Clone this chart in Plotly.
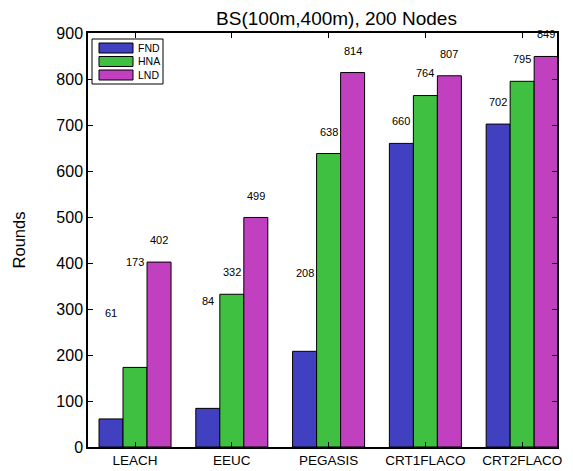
import plotly.graph_objects as go

categories = ["LEACH", "EEUC", "PEGASIS", "CRT1FLACO", "CRT2FLACO"]
series_names = ["FND", "HNA", "LND"]
fnd = [61, 84, 208, 660, 702]
hna = [173, 332, 638, 764, 795]
lnd = [402, 499, 814, 807, 849]
y_ticks = [0, 100, 200, 300, 400, 500, 600, 700, 800, 900]

# label heights above bar tops (rounds units), as placed in the reference
fnd_label_off = [230, 233, 170, 49, 48]
hna_label_off = [229, 48, 47, 49, 48]
lnd_label_off = [48, 47, 47, 47, 49]

colors = ["#4040C0", "#40C040", "#C040C0"]
values = [fnd, hna, lnd]
offsets = [fnd_label_off, hna_label_off, lnd_label_off]
xpos = list(range(1, len(categories) + 1))
bar_w = 0.248

FONT = "Liberation Sans, Arial"

fig = go.Figure()
for name, vals, col in zip(series_names, values, colors):
    fig.add_trace(go.Bar(
        x=xpos, y=vals, name=name, showlegend=False,
        marker=dict(color=col, line=dict(color="black", width=1)),
    ))

annotations = []
for j, (vals, offs) in enumerate(zip(values, offsets)):
    for i, (v, o) in enumerate(zip(vals, offs)):
        annotations.append(dict(
            x=xpos[i] + (j - 1) * bar_w, y=v + o, xref="x", yref="y",
            text=str(v), showarrow=False,
            font=dict(family=FONT, size=11, color="black"),
        ))

# custom legend (paper coordinates of the plot area 88..557 x 33..447 px)
PL, PR, PT, PB = 88, 557, 33, 447
def px_x(p):
    return (p - PL) / (PR - PL)
def px_y(p):
    return (PB - p) / (PB - PT)

shapes = [dict(type="rect", xref="paper", yref="paper",
               x0=px_x(92), x1=px_x(163), y0=px_y(84), y1=px_y(39),
               line=dict(color="black", width=1), fillcolor="white", layer="above")]
for k, (name, col) in enumerate(zip(series_names, colors)):
    top = 43 + k * 13.5
    shapes.append(dict(type="rect", xref="paper", yref="paper",
                       x0=px_x(99), x1=px_x(133), y0=px_y(top + 10), y1=px_y(top),
                       line=dict(color="black", width=1), fillcolor=col, layer="above"))
    annotations.append(dict(x=px_x(136), y=px_y(top + 5), xref="paper", yref="paper",
                            xanchor="left", yanchor="middle", text=name, showarrow=False,
                            font=dict(family=FONT, size=10.5, color="black")))

fig.update_layout(
    width=573, height=471,
    margin=dict(l=88, r=16, t=33, b=24),
    paper_bgcolor="white", plot_bgcolor="white",
    barmode="group", bargap=0.256, bargroupgap=0,
    font=dict(family=FONT, color="black"),
    title=dict(text="BS(100m,400m), 200 Nodes", xref="container", x=336.5 / 573,
               xanchor="center", y=1 - 18 / 471, yanchor="middle",
               font=dict(size=19)),
    showlegend=False,
    annotations=annotations,
    shapes=shapes,
)
fig.update_xaxes(
    range=[0.514, 5.36], tickmode="array", tickvals=xpos, ticktext=categories,
    showline=True, linecolor="black", linewidth=1.5, mirror="ticks",
    ticks="inside", ticklen=5, tickcolor="black", showgrid=False,
    tickfont=dict(size=13.5), zeroline=False, ticklabelstandoff=0,
    automargin=False,
)
fig.update_yaxes(
    range=[0, 900], tickvals=y_ticks,
    showline=True, linecolor="black", linewidth=1.5, mirror="ticks",
    ticks="inside", ticklen=5, tickcolor="black", showgrid=False,
    tickfont=dict(size=16), zeroline=False, automargin=False,
    title=dict(text="Rounds", font=dict(size=16.5), standoff=27),
)

fig.write_html("out.html")
